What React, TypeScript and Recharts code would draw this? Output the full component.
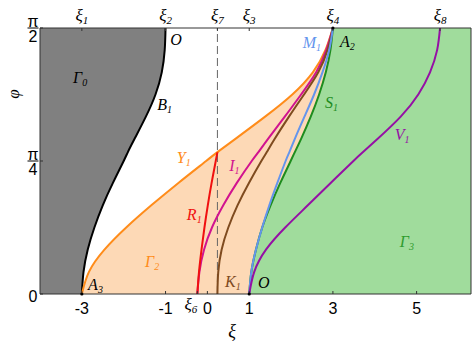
import React from 'react';
import { ComposedChart, Area, Line, XAxis, YAxis, ReferenceLine, ReferenceDot } from 'recharts';

// phi (rad) sample values
const PHI = [0, 0.1309, 0.2618, 0.3927, 0.5236, 0.6545, 0.7854, 0.838, 0.9163, 1.0472, 1.1781, 1.309, 1.4399, 1.5708];
// xi of each curve at the phi samples above
const B1 = [-3.0, -2.96, -2.86, -2.7, -2.5, -2.26, -2.0, -1.9, -1.74, -1.47, -1.24, -1.09, -1.02, -1.0];
const Y1 = [-3.0, -2.83, -2.46, -1.94, -1.34, -0.7, -0.03, 0.24, 0.67, 1.38, 2.03, 2.52, 2.82, 3.0];
const R1 = [-0.24, -0.2, -0.14, -0.07, 0.01, 0.1, 0.2, 0.24, null, null, null, null, null, null];
const I1 = [-0.24, -0.19, -0.08, 0.11, 0.38, 0.7, 1.06, 1.22, 1.45, 1.85, 2.24, 2.6, 2.84, 3.0];
const K1 = [0.24, 0.26, 0.34, 0.5, 0.72, 0.99, 1.29, 1.42, 1.61, 1.95, 2.31, 2.65, 2.87, 3.0];
const M1 = [1.0, 1.05, 1.16, 1.31, 1.48, 1.67, 1.87, 1.96, 2.09, 2.32, 2.55, 2.75, 2.91, 3.0];
const S1 = [1.0, 1.05, 1.16, 1.31, 1.51, 1.74, 1.99, 2.09, 2.24, 2.47, 2.67, 2.83, 2.94, 3.0];
const V1 = [1.0, 1.12, 1.4, 1.86, 2.4, 2.94, 3.49, 3.72, 4.07, 4.62, 5.04, 5.32, 5.49, 5.56];

const X_MIN = -4;
const X_MAX = 6.3;
const PHI_MAX = 1.5708;
const XI6 = -0.24;
const XI7 = 0.24;
const BOTTOM_TICKS = [-3, -1, XI6, 0, 1, 3, 5];
const TOP_TICKS = [-3, -1, XI7, 1, 3, 5.56];
const TOP_SUBS = ['1', '2', '7', '3', '4', '8'];
const LEFT_TICKS = [0, 0.7854, 1.5708];
const LEFT_DENS = ['', '4', '2'];

// annotations: [xi, phi, main, sub, color]
const NOTES: [number, number, string, string, string][] = [
  [-3.21, 1.246, 'Γ', '0', '#000'],
  [-0.89, 1.47, 'O', '', '#000'],
  [-1.2, 1.087, 'B', '1', '#000'],
  [-0.73, 0.774, 'Y', '1', '#FF8C1A'],
  [-0.49, 0.437, 'R', '1', '#F01010'],
  [0.52, 0.726, 'I', '1', '#D1138F'],
  [-1.49, 0.159, 'Γ', '2', '#FF8C1A'],
  [-2.85, 0.024, 'A', '3', '#000'],
  [0.42, 0.041, 'K', '1', '#7F4B1F'],
  [1.21, 0.035, 'O', '', '#000'],
  [2.28, 1.453, 'M', '1', '#6495ED'],
  [3.17, 1.459, 'A', '2', '#000'],
  [2.81, 1.098, 'S', '1', '#1E8C1E'],
  [4.48, 0.909, 'V', '1', '#9510A5'],
  [4.6, 0.278, 'Γ', '3', '#2E9B2E'],
];
const POINTS: [number, number][] = [[3, 1.5708], [1, 0], [-3, 0]];

const SERIF = "'Liberation Serif', 'Times New Roman', serif";
const SANS = "'Liberation Sans', Arial, Helvetica, sans-serif";
const CURVE = 'natural';

const rows = PHI.map((phi, i) => ({
  phi,
  B1: B1[i],
  Y1: Y1[i],
  R1: R1[i],
  I1: I1[i],
  K1: K1[i],
  M1: M1[i],
  S1: S1[i],
  V1: V1[i],
}));

function BottomTick(props: any) {
  const { x, y, payload } = props;
  const v = payload.value;
  if (v === XI6) {
    return (
      <text x={x} y={y + 19} textAnchor="end" fontFamily={SERIF} fontStyle="italic" fontSize={17} fill="#000">
        ξ<tspan fontSize={11} dy={3}>6</tspan>
      </text>
    );
  }
  return (
    <text x={x} y={y + 23} textAnchor="middle" fontFamily={SANS} fontSize={16} fill="#000">
      {String(v)}
    </text>
  );
}

function TopTick(props: any) {
  const { x, y, payload } = props;
  const i = TOP_TICKS.indexOf(payload.value);
  return (
    <text x={x} y={y - 10} textAnchor="middle" fontFamily={SERIF} fontStyle="italic" fontSize={17} fill="#000">
      ξ<tspan fontSize={11} dy={3}>{TOP_SUBS[i]}</tspan>
    </text>
  );
}

function LeftTick(props: any) {
  const { x, y, payload } = props;
  const i = LEFT_TICKS.indexOf(payload.value);
  const cx = x - 10;
  if (i === 0) {
    return (
      <text x={cx} y={y + 8} textAnchor="middle" fontFamily={SANS} fontSize={16} fill="#000">0</text>
    );
  }
  return (
    <g>
      <text x={cx} y={y - 1.5} textAnchor="middle" fontFamily={SANS} fontSize={16} fill="#000">π</text>
      <line x1={cx - 5.5} x2={cx + 5.5} y1={y} y2={y} stroke="#000" strokeWidth={1} />
      <text x={cx} y={y + 14} textAnchor="middle" fontFamily={SANS} fontSize={16} fill="#000">{LEFT_DENS[i]}</text>
    </g>
  );
}

function YLabel(p: any) {
  const vb = p.viewBox || { x: 0, y: 28 };
  const cx = vb.x + 13;
  const cy = vb.y + 66;
  return (
    <text x={cx} y={cy} transform={`rotate(-90 ${cx} ${cy})`} textAnchor="middle" dominantBaseline="central"
      fontFamily={SERIF} fontStyle="italic" fontSize={17} fill="#000">φ</text>
  );
}

function XLabel(p: any) {
  const vb = p.viewBox || { x: 40, y: 294 };
  return (
    <text x={vb.x + 192} y={vb.y + 43} textAnchor="middle" fontFamily={SERIF} fontStyle="italic" fontSize={18} fill="#000">ξ</text>
  );
}

const noteShape = (main: string, sub: string, color: string) => (p: any) => (
  <text x={p.cx} y={p.cy} fill={color} fontFamily={SERIF} fontStyle="italic" fontSize={16}>
    {main}
    {sub ? <tspan fontSize={10} dy={3}>{sub}</tspan> : null}
  </text>
);

export default function App() {
  return (
    <div style={{ position: 'absolute', left: 0, top: 0, background: '#fff' }}>
      <ComposedChart
        layout="vertical"
        width={473}
        height={347}
        data={rows}
        margin={{ top: 0, right: 2, bottom: 0, left: 0 }}
      >
        <XAxis
          type="number"
          domain={[X_MIN, X_MAX]}
          allowDataOverflow
          ticks={BOTTOM_TICKS}
          interval={0}
          height={53}
          tick={<BottomTick />}
          tickSize={-3}
          tickMargin={0}
          tickLine={{ stroke: '#333' }}
          axisLine={{ stroke: '#333' }}
          label={{ content: XLabel } as any}
        />
        <XAxis
          xAxisId="top"
          orientation="top"
          type="number"
          domain={[X_MIN, X_MAX]}
          allowDataOverflow
          ticks={TOP_TICKS}
          interval={0}
          height={28}
          tick={<TopTick />}
          tickSize={-3}
          tickMargin={0}
          tickLine={{ stroke: '#333' }}
          axisLine={{ stroke: '#333' }}
        />
        <YAxis
          type="number"
          dataKey="phi"
          domain={[0, PHI_MAX]}
          allowDataOverflow
          reversed
          ticks={LEFT_TICKS}
          interval={0}
          width={40}
          tick={<LeftTick />}
          tickSize={-3}
          tickMargin={0}
          tickLine={{ stroke: '#333' }}
          axisLine={{ stroke: '#333' }}
          label={{ content: YLabel } as any}
        />
        <Area dataKey={(d: any) => [X_MIN, d.B1]} type={CURVE} fill="#808080" fillOpacity={1} stroke="none" isAnimationActive={false} />
        <Area dataKey={(d: any) => [d.Y1, d.S1]} type={CURVE} fill="#FDD9B6" fillOpacity={1} stroke="none" isAnimationActive={false} />
        <Area dataKey={(d: any) => [d.S1, X_MAX]} type={CURVE} fill="#A0DC9C" fillOpacity={1} stroke="none" isAnimationActive={false} />
        <ReferenceLine x={XI7} stroke="#666" strokeDasharray="8 4" strokeWidth={1} />
        <ReferenceLine x={X_MAX} stroke="#333" strokeWidth={1} />
        <Line dataKey="B1" type={CURVE} stroke="#000" strokeWidth={2} dot={false} isAnimationActive={false} />
        <Line dataKey="Y1" type={CURVE} stroke="#FF8C1A" strokeWidth={2} dot={false} isAnimationActive={false} />
        <Line dataKey="I1" type={CURVE} stroke="#D1138F" strokeWidth={2} dot={false} isAnimationActive={false} />
        <Line dataKey="R1" type={CURVE} stroke="#F01010" strokeWidth={2} dot={false} isAnimationActive={false} />
        <Line dataKey="K1" type={CURVE} stroke="#7F4B1F" strokeWidth={2} dot={false} isAnimationActive={false} />
        <Line dataKey="S1" type={CURVE} stroke="#1E8C1E" strokeWidth={2} dot={false} isAnimationActive={false} />
        <Line dataKey="M1" type={CURVE} stroke="#6495ED" strokeWidth={2} dot={false} isAnimationActive={false} />
        <Line dataKey="V1" type={CURVE} stroke="#9510A5" strokeWidth={2} dot={false} isAnimationActive={false} />
        {POINTS.map(([x, y], i) => (
          <ReferenceDot key={'p' + i} x={x} y={y} r={1.6} fill="#000" stroke="none" ifOverflow="visible" />
        ))}
        {NOTES.map(([x, y, main, sub, color], i) => (
          <ReferenceDot key={'n' + i} x={x} y={y} r={0} ifOverflow="visible" shape={noteShape(main, sub, color)} />
        ))}
      </ComposedChart>
    </div>
  );
}
